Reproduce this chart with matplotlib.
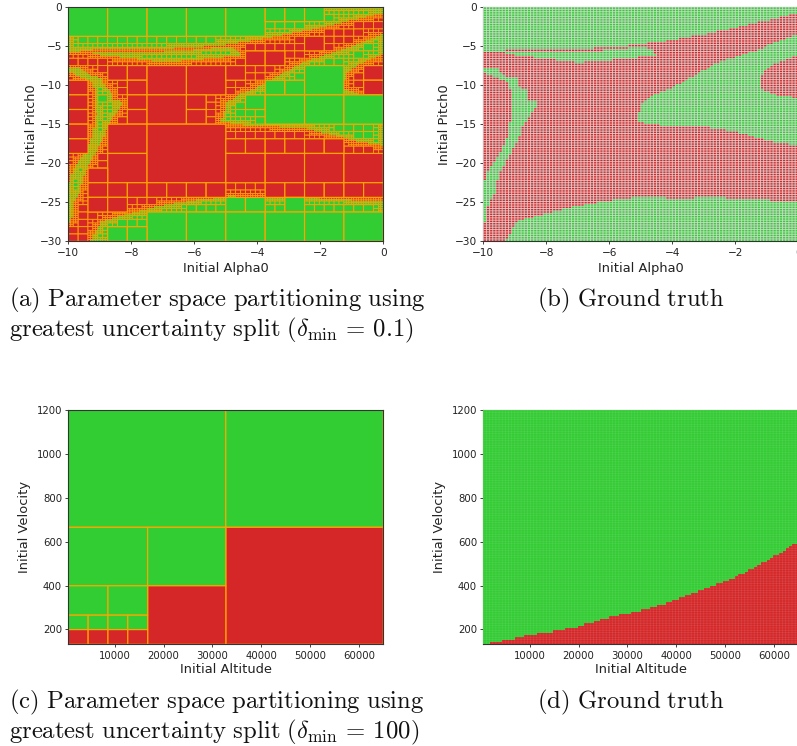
import numpy as np
import matplotlib
matplotlib.use("Agg")
import matplotlib.pyplot as plt
from matplotlib.path import Path
from matplotlib.collections import PolyCollection
from matplotlib.colors import ListedColormap

# ---------- data ----------
alpha_range = (-10.0, 0.0)
pitch_range = (-30.0, 0.0)
altitude_range = (500.0, 65000.0)
velocity_range = (132.0, 1200.0)

green_top = [(-10, 0), (0, 0), (0, -0.8), (-1, -1.7), (-2, -2.7), (-3, -3.5), (-4, -4.2), (-5, -4.8),
             (-6, -5.15), (-7, -5.35), (-9.2, -5.35), (-9.3, -5.7), (-10, -5.8)]
green_mid = [(-9.3, -5.85), (-7, -5.75), (-6, -5.5), (-5, -5.1), (-4.7, -5.3), (-4.5, -6.2), (-6, -6.8),
             (-7, -7.1), (-8, -6.6), (-9, -6.2)]
green_wedge = [(-5.13, -14.5), (-4.97, -12.3), (-4.6, -11.3), (-4.07, -10.4), (-3.55, -9.35), (-3, -8.07),
               (-2.5, -7), (-1.96, -6.36), (-1.43, -5.7), (-0.9, -4.87), (0, -3.5), (0, -6.15), (-0.58, -7),
               (-1, -7.85), (-1.2, -8.9), (-1.23, -10.4), (-0.9, -11), (-0.47, -11.5), (0, -11.6),
               (0, -17.75), (-0.9, -17.2), (-1.6, -16.4), (-2.5, -15.5), (-3.55, -15.3), (-4.3, -15.2),
               (-5.13, -14.7)]
green_strip = [(-10, -7.85), (-9.58, -7.85), (-9.26, -8.9), (-8.94, -9.1), (-8.84, -10.2), (-8.64, -10.6),
               (-8.62, -12.0), (-8.3, -12.1), (-8.33, -12.8), (-8.5, -13.8), (-8.73, -15.1), (-8.9, -17),
               (-9.26, -19.6), (-9.52, -21.7), (-9.63, -23.9), (-9.84, -25.1), (-9.9, -27.7), (-10, -27.7),
               (-10, -24.3), (-9.95, -22.1), (-9.84, -20.9), (-9.42, -18.3), (-9.26, -17), (-9.1, -13.8),
               (-9.15, -10.6), (-9.24, -9.6), (-9.58, -9.1), (-9.9, -8.5), (-10, -8.3)]
green_bottom = [(-9.3, -30), (-8.94, -27.5), (-8.41, -26.8), (-7.78, -26.2), (-7.25, -25.65), (-6.5, -25.1),
                (-5.87, -24.7), (-4.8, -24.2), (-4.07, -24.5), (-2.6, -24.4), (-1.43, -24.6), (-0.37, -24.9),
                (0, -24.9), (0, -30)]
green_regions = [green_top, green_mid, green_wedge, green_strip, green_bottom]

# Undivided blocks of panel (a): column, row, width, height in units of the 8x8 base cells
big_blocks = [
    (0, 0, 1, 1), (1, 0, 1, 1), (2, 0, 1, 1), (3, 0, 1, 1), (4, 0, 1, 1),
    (5, 0, .5, .5), (5.5, 0, .5, .5), (6, 0, .5, .5),
    (4.5, 1.5, .5, .5), (5, 1.5, .5, .5), (6, 1, .5, .5),
    (1, 2, .5, .5), (1.5, 2, .5, .5), (1.5, 2.5, .5, .5), (2, 2, 1, 1), (3, 2, 1, 1),
    (4, 2, .5, .5), (5, 2.5, .5, .5), (5.5, 2.5, .5, .5), (6, 2, 1, 1), (7.5, 2, .5, .5), (7.5, 2.5, .5, .5),
    (0, 2.5, .5, .5), (0, 3, .5, .5), (0, 3.5, .5, .5), (1.5, 3, .5, .5), (1.5, 3.5, .5, .5), (2, 3, 1, 1),
    (3, 3, .5, .5), (3, 3.5, .5, .5), (4.5, 3, .5, .5), (5, 3, 1, 1), (6, 3, 1, 1), (7, 3, 1, 1),
    (0, 4, .5, .5), (0, 4.5, .5, .5), (1, 4, 1, 1), (1, 5, 1, 1), (2, 4, 2, 2),
    (4, 4.5, .5, .5), (4.5, 4.5, .5, .5), (5, 4.5, .5, .5), (5.5, 4.5, .5, .5), (6, 4.5, .5, .5), (6.5, 4.5, .5, .5),
    (4, 5, 1, 1), (5, 5, 1, 1), (6, 5, 1, 1), (7, 5, 1, 1), (0.5, 5.5, .5, .5),
    (0.5, 6, .5, .5), (0.5, 6.5, .5, .5), (1, 6, .5, .5), (1.5, 6, .5, .5), (1, 6.5, .5, .5),
    (2, 6, .5, .5), (2.5, 6, .5, .5), (3, 6, .5, .5), (3.5, 6, .5, .5),
    (5, 6, .5, .5), (5.5, 6, .5, .5), (6, 6, .5, .5), (6.5, 6, .5, .5), (7, 6, .5, .5), (7.5, 6, .5, .5),
    (4, 6.5, .5, .5), (4.5, 6.5, .5, .5), (5.5, 6.5, .5, .5),
    (2, 7, 1, 1), (3, 7, 1, 1), (4, 7, 1, 1), (5, 7, 1, 1), (6, 7, 1, 1), (7, 7, 1, 1),
    (1, 7.5, .5, .5), (1.5, 7.5, .5, .5),
]

# Panel (c): cut indices (altitude low, high, velocity low, high) and safe flag
alt_cuts = [500, 4562, 8625, 12687, 16750, 32750, 65000]
vel_cuts = [132, 199, 265, 399, 666, 1200]
c_blocks = [
    (0, 5, 4, 5, 1), (5, 6, 4, 5, 1), (5, 6, 0, 4, 0),
    (0, 4, 3, 4, 1), (4, 5, 3, 4, 1), (4, 5, 0, 3, 0),
    (0, 2, 2, 3, 1), (2, 4, 2, 3, 1),
    (0, 1, 1, 2, 1), (1, 2, 1, 2, 1), (2, 3, 1, 2, 1), (3, 4, 1, 2, 1),
    (0, 1, 0, 1, 0), (1, 2, 0, 1, 0), (2, 3, 0, 1, 0), (3, 4, 0, 1, 0),
]

# Panel (d): boundary between the two classes
d_altitude = [500, 5000, 10000, 15000, 20000, 25000, 30000, 35000, 40000, 45000, 50000, 55000, 60000, 65000]
d_velocity = [132, 151, 174, 191, 212, 250, 273, 300, 334, 376, 417, 470, 531, 600]

# Text
captions_a = [r"$\mathrm{(a)\ Parameter\ space\ partitioning\ using}$",
              r"$\mathrm{greatest\ uncertainty\ split\ (}\delta_{\min}\,=\,0.1\mathrm{)}$"]
captions_c = [r"$\mathrm{(c)\ Parameter\ space\ partitioning\ using}$",
              r"$\mathrm{greatest\ uncertainty\ split\ (}\delta_{\min}\,=\,100\mathrm{)}$"]
caption_b = r"$\mathrm{(b)\ Ground\ truth}$"
caption_d = r"$\mathrm{(d)\ Ground\ truth}$"

GREEN, RED, EDGE = "limegreen", "tab:red", "orange"
W, H = 797, 746
plt.rcParams["mathtext.fontset"] = "cm"
fig = plt.figure(figsize=(W / 100, H / 100), dpi=100)


def axes_px(x0, y0, x1, y1):
    return fig.add_axes([x0 / W, 1 - y1 / H, (x1 - x0) / W, (y1 - y0) / H])


paths = [Path(p) for p in green_regions]


def is_green(x, y):
    pts = np.column_stack([np.ravel(x), np.ravel(y)])
    out = np.zeros(len(pts), bool)
    for p in paths:
        out |= p.contains_points(pts)
    return out.reshape(np.shape(x))


DX, DY = 1.25, 3.75
MAX_LEVEL = 4
LEVEL_WIDTH = {0: 0.85, 1: 0.8, 2: 0.65, 3: 0.55, 4: 0.45}
leaves, leaf_widths = [], []


def overlap(c, r, s, b):
    return c < b[0] + b[2] and b[0] < c + s and r < b[1] + b[3] and b[1] < r + s


def inside(c, r, s, b):
    return b[0] <= c and c + s <= b[0] + b[2] and b[1] <= r and r + s <= b[1] + b[3]


def rect_of(c, r, w, h):
    x0 = -10 + c * DX
    y1 = -r * DY
    return x0, x0 + w * DX, y1 - h * DY, y1


def walk(c, r, s, level):
    if any(inside(c, r, s, b) for b in big_blocks):
        return
    touches = any(overlap(c, r, s, b) for b in big_blocks)
    x0, x1, y0, y1 = rect_of(c, r, s, s)
    mx, my = 0.05, 0.15
    gx, gy = np.meshgrid(np.linspace(x0 - mx, x1 + mx, 9), np.linspace(y0 - my, y1 + my, 9))
    g = is_green(gx, gy)
    pure = g.all() or (~g).all()
    if level >= MAX_LEVEL or (level >= 2 and pure and not touches):
        leaves.append((x0, x1, y0, y1))
        leaf_widths.append(LEVEL_WIDTH[level])
        return
    for dc in (0, s / 2):
        for dr in (0, s / 2):
            walk(c + dc, r + dr, s / 2, level + 1)


for c in range(8):
    for r in range(8):
        walk(float(c), float(r), 1.0, 0)
for b in big_blocks:
    leaves.append(rect_of(*b))
    leaf_widths.append(LEVEL_WIDTH[0])


def draw_rects(ax, rects, colors, lw):
    verts = [[(a, c), (b, c), (b, d), (a, d)] for a, b, c, d in rects]
    pc = PolyCollection(verts, facecolors=colors, edgecolors=EDGE, linewidths=lw, zorder=2)
    pc.set_snap(False)
    ax.add_collection(pc)


def style(ax, xl, yl, xlabel, ylabel, ticksize, labelsize, xpad, ypad):
    ax.set_xlim(*xl)
    ax.set_ylim(*yl)
    ax.set_xlabel(xlabel, fontsize=labelsize, labelpad=xpad, color="#222222")
    ax.set_ylabel(ylabel, fontsize=labelsize, labelpad=ypad, color="#222222")
    ax.tick_params(labelsize=ticksize, length=2.5, width=0.6, pad=2, colors="#222222")
    for s in ax.spines.values():
        s.set_linewidth(0.8)
        s.set_color("#333333")


# Panel (a)
axa = axes_px(68.3, 7, 383.3, 241.3)
cols = [GREEN if is_green(np.array([(a + b) / 2]), np.array([(c + d) / 2]))[0] else RED for a, b, c, d in leaves]
draw_rects(axa, leaves, cols, leaf_widths)
style(axa, alpha_range, pitch_range, "Initial Alpha0", "Initial Pitch0", 7.6, 9.4, 3, 1.5)


def mesh(ax, x, y, z, line_color, line_alpha, lw):
    ax.pcolormesh(x, y, z, cmap=ListedColormap([RED, GREEN]), vmin=0, vmax=1, zorder=3)
    a = ax.vlines(x, y[0], y[-1], colors=line_color, alpha=line_alpha, linewidth=lw, zorder=3.1)
    b = ax.hlines(y, x[0], x[-1], colors=line_color, alpha=line_alpha, linewidth=lw, zorder=3.1)
    a.set_snap(False)
    b.set_snap(False)


# Panel (b)
axb = axes_px(483.3, 7, 798.3, 241.3)
xe = np.linspace(*alpha_range, 101)
ye = np.linspace(*pitch_range, 101)
xc, yc = np.meshgrid((xe[:-1] + xe[1:]) / 2, (ye[:-1] + ye[1:]) / 2)
mesh(axb, xe, ye, is_green(xc, yc).astype(float), "#d8d8d8", 0.85, 0.7)
style(axb, alpha_range, pitch_range, "Initial Alpha0", "Initial Pitch0", 7.6, 9.4, 3, 2.5)

# Panel (c)
axc = axes_px(68.3, 410.3, 383.3, 644.3)
rects_c, cols_c = [], []
for a, b, c, d, safe in c_blocks:
    rects_c.append((alt_cuts[a], alt_cuts[b], vel_cuts[c], vel_cuts[d]))
    cols_c.append(GREEN if safe else RED)
draw_rects(axc, rects_c, cols_c, 0.85)
style(axc, altitude_range, velocity_range, "Initial Altitude", "Initial Velocity", 7.3, 9.4, 2, 4)

# Panel (d)
axd = axes_px(483.3, 410.3, 798.3, 644.3)
xe = np.linspace(*altitude_range, 101)
ye = np.linspace(*velocity_range, 101)
xc, yc = np.meshgrid((xe[:-1] + xe[1:]) / 2, (ye[:-1] + ye[1:]) / 2)
mesh(axd, xe, ye, (yc > np.interp(xc, d_altitude, d_velocity)).astype(float), "#dddddd", 0.14, 0.5)
style(axd, altitude_range, velocity_range, "Initial Altitude", "Initial Velocity", 7.3, 9.4, 2, 4)
for ax in (axc, axd):
    ax.set_xticks([10000, 20000, 30000, 40000, 50000, 60000])
    ax.set_yticks([200, 400, 600, 800, 1000, 1200])

CAP = 17.8


def cap(x, y, s, ha="left"):
    fig.text(x / W, 1 - y / H, s, fontsize=CAP, ha=ha, va="baseline", color="#111111")


cap(9, 306, captions_a[0])
cap(9, 336, captions_a[1])
cap(631, 306, caption_b, "center")
cap(9, 708, captions_c[0])
cap(9, 738, captions_c[1])
cap(631, 708, caption_d, "center")

fig.savefig("out.png", dpi=100)
